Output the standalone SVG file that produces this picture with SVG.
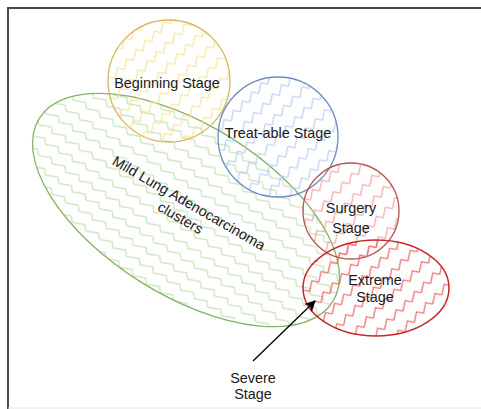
<svg xmlns="http://www.w3.org/2000/svg" width="481" height="409" viewBox="0 0 481 409">
  <defs>
    <pattern id="zzGreen" patternUnits="userSpaceOnUse" width="16" height="13">
      <path d="M0,8 L12,3 L16,8" fill="none" stroke="#c5e1b6" stroke-width="1.2"/>
    </pattern>
    <pattern id="zzYellow" patternUnits="userSpaceOnUse" width="13" height="16" patternTransform="rotate(-45)">
      <path d="M0,9 L9,3 L13,9" fill="none" stroke="#f7e497" stroke-width="1.2"/>
    </pattern>
    <pattern id="zzBlue" patternUnits="userSpaceOnUse" width="13" height="16" patternTransform="rotate(-45)">
      <path d="M0,9 L9,3 L13,9" fill="none" stroke="#b9cef2" stroke-width="1.2"/>
    </pattern>
    <pattern id="zzRedLight" patternUnits="userSpaceOnUse" width="13" height="16" patternTransform="rotate(-45)">
      <path d="M0,9 L9,3 L13,9" fill="none" stroke="#f0a3a3" stroke-width="1.2"/>
    </pattern>
    <pattern id="zzRed" patternUnits="userSpaceOnUse" width="13" height="16" patternTransform="rotate(-45)">
      <path d="M0,9 L9,3 L13,9" fill="none" stroke="#ef6363" stroke-width="1.2"/>
    </pattern>
    <marker id="arrow" markerWidth="11" markerHeight="11" refX="10" refY="5.5" orient="auto" markerUnits="userSpaceOnUse">
      <path d="M0,0 L11,5.5 L0,11 L3,5.5 Z" fill="#000"/>
    </marker>
  </defs>
  <style>
    .lbl { font-family: "Liberation Sans", Arial, sans-serif; font-size: 14.4px; fill: #1a1a1a; text-anchor: middle; }
    .frame { stroke: #4a4a4a; stroke-width: 2; fill: none; }
  </style>
  <rect x="0" y="0" width="481" height="409" fill="#ffffff"/>
  <g id="frame">
    <path class="frame" d="M8,409 L8,8 L481,8"/>
    <line x1="8" y1="408" x2="481" y2="408" stroke="#e6e6e6" stroke-width="1"/>
  </g>
  <g id="mild">
    <ellipse cx="186" cy="210" rx="173" ry="85" transform="rotate(32 186 210)" fill="url(#zzGreen)" stroke="#82b366" stroke-width="1.3"/>
    <g transform="translate(185,210) rotate(30)">
      <text class="lbl" x="0" y="-3">Mild Lung Adenocarcinoma</text>
      <text class="lbl" x="0" y="14">clusters</text>
    </g>
  </g>
  <g id="beginning">
    <circle cx="169" cy="81" r="61" fill="url(#zzYellow)" stroke="#d6b656" stroke-width="1.3"/>
    <text class="lbl" x="167" y="88">Beginning Stage</text>
  </g>
  <g id="treatable">
    <circle cx="278" cy="137" r="60" fill="url(#zzBlue)" stroke="#6c8ebf" stroke-width="1.3"/>
    <text class="lbl" x="278" y="138">Treat-able Stage</text>
  </g>
  <g id="surgery">
    <circle cx="351" cy="211" r="48" fill="url(#zzRedLight)" stroke="#b85450" stroke-width="1.3"/>
    <text class="lbl" x="351" y="213">Surgery</text>
    <text class="lbl" x="351" y="233">Stage</text>
  </g>
  <g id="extreme">
    <ellipse cx="376" cy="288" rx="73" ry="48" fill="url(#zzRed)" stroke="#c62828" stroke-width="1.5"/>
    <text class="lbl" x="375" y="285">Extreme</text>
    <text class="lbl" x="375" y="302">Stage</text>
  </g>
  <g id="severe">
    <text class="lbl" x="253" y="383">Severe</text>
    <text class="lbl" x="253" y="399">Stage</text>
  </g>
  <g id="connectors">
    <line x1="253" y1="361" x2="315" y2="301" stroke="#000" stroke-width="1.3" marker-end="url(#arrow)"/>
  </g>
</svg>
